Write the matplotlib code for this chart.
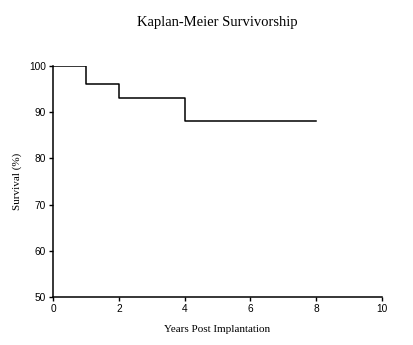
import matplotlib
matplotlib.use("Agg")
import matplotlib.pyplot as plt

years = [0, 1, 2, 4, 8]
survival = [100, 96, 93, 88, 88]
xticks = [0, 2, 4, 6, 8, 10]
yticks = [50, 60, 70, 80, 90, 100]

fig = plt.figure(figsize=(4.14, 3.45), dpi=100)
ax = fig.add_axes([0.128, 0.139, 0.795, 0.670])
ax.plot(years, survival, drawstyle="steps-post", color="black", linewidth=1.1)
ax.set_xlim(0, 10)
ax.set_ylim(50, 100)
ax.set_xticks(xticks)
ax.set_yticks(yticks)
for s in ["top", "right"]:
    ax.spines[s].set_visible(False)
for s in ["left", "bottom"]:
    ax.spines[s].set_linewidth(1.1)
ax.tick_params(direction="out", length=3, width=1, labelsize=7.3, pad=2)
for lab in ax.get_xticklabels() + ax.get_yticklabels():
    lab.set_fontfamily("Liberation Sans")
ax.set_xlabel("Years Post Implantation", fontfamily="Liberation Serif", fontsize=8, labelpad=8)
ax.set_ylabel("Survival (%)", fontfamily="Liberation Serif", fontsize=8, labelpad=5)
fig.text(0.525, 0.935, "Kaplan-Meier Survivorship", ha="center", va="center",
         fontfamily="Liberation Serif", fontsize=10.5)
fig.savefig("out.png", dpi=100)
